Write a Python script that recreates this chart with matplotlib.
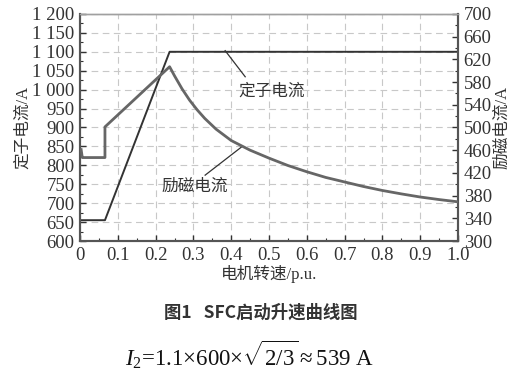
import numpy as np
import matplotlib.pyplot as plt
from matplotlib.ticker import MultipleLocator, FuncFormatter

plt.rcParams['font.family'] = ['Liberation Serif', 'Noto Sans CJK SC']
plt.rcParams['mathtext.fontset'] = 'custom'
plt.rcParams['mathtext.rm'] = 'Liberation Serif'
plt.rcParams['mathtext.it'] = 'Liberation Serif:italic'

# 定子电流 (左轴)
stator_x = [0, 0.066, 0.237, 1.0]
stator_y = [655, 655, 1100, 1100]

# 励磁电流 (右轴)
field_x = [0.003, 0.006, 0.066, 0.066, 0.237, 0.25, 0.27, 0.29, 0.31, 0.33,
           0.36, 0.40, 0.45, 0.50, 0.55, 0.60, 0.65, 0.70, 0.75, 0.80,
           0.85, 0.90, 0.95, 1.0]
field_y = [461, 447, 447, 501, 607, 591, 568, 548, 531, 516,
           497, 477, 460, 446, 433, 422, 412, 404, 396, 389,
           383, 377.5, 373, 369]

left_ticks = np.arange(600, 1201, 50)
right_ticks = np.arange(300, 701, 40)
x_ticks = np.arange(0, 1.01, 0.1)

fig = plt.figure(figsize=(5.25, 3.71), dpi=100)
ax = fig.add_axes([0.1524, 0.3504, 0.72, 0.612])
ax2 = ax.twinx()

ax.plot(stator_x, stator_y, color='#333333', lw=1.4, zorder=3)
ax2.plot(field_x, field_y, color='#666666', lw=2.0, zorder=3)

ax.set_xlim(0, 1.0)
ax.set_ylim(600, 1200)
ax2.set_ylim(300, 700)
ax.set_xticks(x_ticks)
ax.set_yticks(left_ticks)
ax2.set_yticks(right_ticks)
ax.xaxis.set_minor_locator(MultipleLocator(0.05))
ax.yaxis.set_minor_locator(MultipleLocator(25))
ax2.yaxis.set_minor_locator(MultipleLocator(20))

ax.xaxis.set_major_formatter(FuncFormatter(lambda v, p: '0' if v == 0 else ('1.0' if abs(v - 1) < 1e-9 else f'{v:.1f}')))
ax.yaxis.set_major_formatter(FuncFormatter(lambda v, p: f'{int(v):,}'.replace(',', ' ')))

ax.grid(True, which='major', color='#c8c8c8', ls=(0, (6, 4)), lw=0.8)
ax.set_axisbelow(True)

for a in (ax, ax2):
    a.tick_params(which='both', direction='in', labelsize=13.5, colors='#333333', pad=4)
    a.tick_params(which='major', length=4, width=1)
    a.tick_params(which='minor', length=2, width=0.8)
    for s in ('left', 'right', 'bottom'):
        a.spines[s].set_color('#555555')
        a.spines[s].set_linewidth(1.5)
    a.spines['top'].set_color('#a0a0a0')
    a.spines['top'].set_linewidth(1.0)

ax.set_ylabel('定子电流/A', fontsize=12, color='#333333', labelpad=1)
ax2.set_ylabel('励磁电流/A', fontsize=12, color='#333333', labelpad=2)
ax.set_xlabel('电机转速/p.u.', fontsize=12, color='#333333', labelpad=1)

# 标注
ax.plot([0.384, 0.437], [1103, 1034], color='#333333', lw=0.9)
ax.text(0.508, 994, '定子电流', fontsize=12, ha='center', va='center', color='#333333')
ax.plot([0.428, 0.331], [849, 774], color='#333333', lw=0.9)
ax.text(0.304, 743, '励磁电流', fontsize=12, ha='center', va='center', color='#333333')

fig.text(0.497, 0.157, '图1   SFC启动升速曲线图', fontsize=12.5, ha='center', va='center',
         family=['Noto Sans CJK SC', 'DejaVu Sans'], weight='semibold', color='#333333')
fig.text(0.476, 0.043, r'$I_2$=1.1$\times$600$\times\sqrt{2/3}\approx$539 A', fontsize=16.5,
         ha='center', va='center', color='#111111')

fig.savefig('out.png', dpi=100)
